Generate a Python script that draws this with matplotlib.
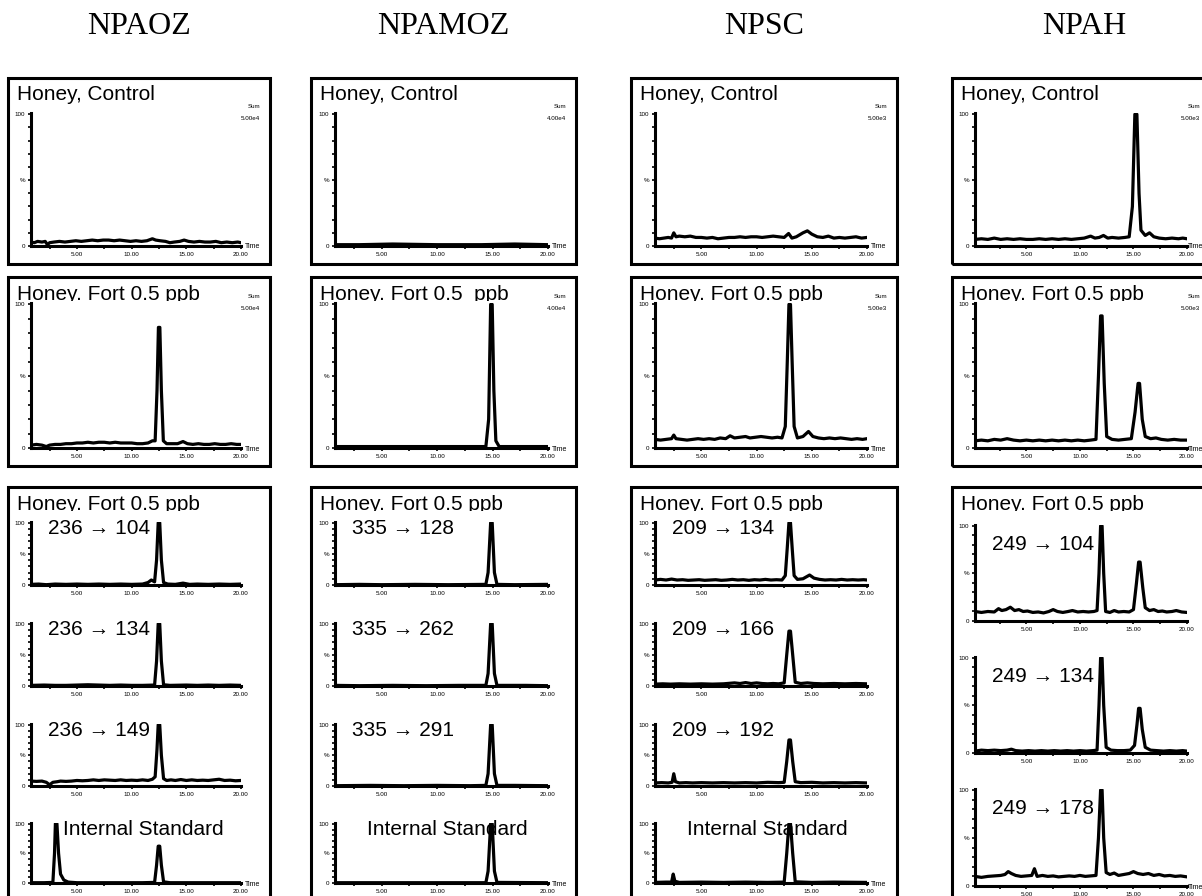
import numpy as np
import matplotlib
matplotlib.use('Agg')
import matplotlib.pyplot as plt
from matplotlib.patches import Rectangle
from matplotlib.transforms import Bbox, TransformedBbox

plt.rcParams['font.family'] = ['Liberation Sans', 'DejaVu Sans']

W, H = 1202, 896

# column headers and per-column scale text
compounds = ['NPAOZ', 'NPAMOZ', 'NPSC', 'NPAH']
sums = ['5.00e4', '4.00e4', '5.00e3', '5.00e3']
row_titles = [['Honey, Control', 'Honey. Fort 0.5 ppb', 'Honey. Fort 0.5 ppb'],
              ['Honey, Control', 'Honey. Fort 0.5  ppb', 'Honey. Fort 0.5 ppb'],
              ['Honey, Control', 'Honey. Fort 0.5 ppb', 'Honey. Fort 0.5 ppb'],
              ['Honey, Control', 'Honey. Fort 0.5 ppb', 'Honey. Fort 0.5 ppb']]
transitions = [['236 \u2192 104', '236 \u2192 134', '236 \u2192 149', 'Internal Standard'],
               ['335 \u2192 128', '335 \u2192 262', '335 \u2192 291', 'Internal Standard'],
               ['209 \u2192 134', '209 \u2192 166', '209 \u2192 192', 'Internal Standard'],
               ['249 \u2192 104', '249 \u2192 134', '249 \u2192 178']]

# chromatograms, (time min, relative %)
npaoz_ctrl = [(0.8,3),(1.1,2.5),(1.4,3.5),(1.8,3),(2.1,3.5),(2.3,1),(2.5,2.5),(2.9,3),(3.4,3.5),(3.9,3),(4.4,3.5),
              (4.9,4),(5.4,3.5),(5.9,4),(6.4,4.5),(6.9,4),(7.4,4.5),(7.9,4.5),(8.4,4),(8.9,4.5),(9.4,4),(9.9,3.5),
              (10.4,4),(10.9,3.5),(11.4,4),(11.9,5.5),(12.2,4.5),(12.6,4),(13.1,3.5),(13.5,2.5),(13.9,3),(14.4,3.5),
              (14.8,4.5),(15.2,3.5),(15.7,3),(16.2,3.5),(16.7,3),(17.2,3),(17.7,3.5),(18.2,2.5),(18.7,3),(19.2,2.5),
              (19.7,3),(20.0,2.5)]
npaoz_fort = [(0.8,2),(1.3,2.5),(1.8,2),(2.2,1),(2.5,2),(3,2.5),(3.5,2.5),(4,3),(4.5,3),(5,3.5),(5.5,3.5),(6,4),
              (6.5,3.5),(7,4),(7.5,4),(8,3.5),(8.5,4),(9,3.5),(9.5,3.5),(10,3.5),(10.5,3),(11,3),(11.5,3.5),(11.9,5),
              (12.15,5),(12.32,40),(12.45,84),(12.58,84),(12.72,40),(12.9,5),(13.2,3),(13.7,3),(14.2,3),(14.7,4.5),
              (15.1,3),(15.6,2.5),(16.1,3),(16.6,2.5),(17.1,2.5),(17.6,3),(18.1,2.5),(18.6,2.5),(19.1,3),(19.6,2.5),(20,2.5)]
npaoz_104 = [(0.8,1),(1.5,1.5),(2.2,0.5),(3,1.5),(4,1),(5,1.5),(6,1),(7,1.5),(8,1),(9,1.5),(10,1),(11,1.5),(11.5,4),
             (11.8,8),(12.1,5),(12.28,40),(12.43,100),(12.57,100),(12.72,40),(12.92,4),(13.3,1.5),(14,1),(14.7,3),
             (15.3,1),(16,1.5),(17,1),(18,1.5),(19,1),(20,1.5)]
npaoz_134 = [(0.8,1),(2,1.5),(3,1),(4,1),(5,1.5),(6,2),(7,1.5),(8,1),(9,1.5),(10,1),(11,1),(12.1,1.5),(12.28,40),
             (12.43,100),(12.57,100),(12.72,40),(12.92,2),(13.5,1),(15,1.5),(16,1),(17,1.5),(18,1),(19,1.5),(20,1)]
npaoz_149 = [(0.8,8),(1.3,7.5),(1.8,8),(2.2,6),(2.5,2),(2.8,6),(3.2,7),(3.5,8),(4,7.5),(4.5,8),(5,9),(5.5,8.5),(6,9),
             (6.5,10),(7,9),(7.5,10),(8,9.5),(8.5,9),(9,10),(9.5,9),(10,9.5),(10.5,9),(11,10),(11.5,9),(11.9,11),
             (12.15,15),(12.32,60),(12.43,100),(12.57,100),(12.72,50),(12.92,12),(13.2,9),(13.6,10),(14,9),(14.5,10.5),
             (15,9),(15.5,10),(16,9),(16.5,9.5),(17,9),(17.5,10),(18,11),(18.5,9),(19,9.5),(19.5,8.5),(20,9)]
npaoz_is = [(0.8,0.5),(2,0.5),(2.8,1),(2.95,50),(3.03,100),(3.17,100),(3.32,50),(3.5,15),(3.8,5),(4.2,1.5),(5,0.5),
            (7,0.5),(9,0.5),(11,0.5),(12.1,1),(12.28,30),(12.43,62),(12.57,62),(12.72,30),(12.92,2),(13.5,0.5),
            (16,0.5),(20,0.5)]

npamoz_ctrl = [(0.8,1),(3,1),(6,1.5),(10,1),(14,1),(17,1.5),(20,1)]
npamoz_fort = [(0.8,1),(5,1),(10,1),(14.4,1),(14.65,20),(14.83,100),(14.97,100),(15.12,40),(15.3,5),(15.6,1),(20,1)]
npamoz_128 = [(0.8,0.5),(3,1),(5,0.5),(8,1),(11,0.5),(14.4,1),(14.6,20),(14.83,100),(14.97,100),(15.17,20),
              (15.4,1),(17,0.5),(20,1)]
npamoz_262 = [(0.8,1),(3,0.5),(6,1),(9,0.5),(12,1),(14.4,1),(14.6,20),(14.83,100),(14.97,100),(15.17,20),
              (15.4,1),(18,1),(20,0.5)]
npamoz_291 = [(0.8,0.5),(4,1),(7,0.5),(10,1),(13,0.5),(14.4,1),(14.6,20),(14.83,100),(14.97,100),(15.17,20),
              (15.4,1),(17,1),(20,0.5)]
npamoz_is = [(0.8,0.5),(5,0.5),(10,0.5),(14.4,0.5),(14.6,20),(14.83,100),(14.97,100),(15.17,20),(15.4,1),(20,0.5)]

npsc_ctrl = [(0.8,6),(1.2,5.5),(1.6,6),(2.0,6.5),(2.3,6),(2.5,10),(2.7,7),(3,7.5),(3.5,7),(4,7.5),(4.5,6.5),(5,6.5),
             (5.5,6),(6,6.5),(6.5,5.5),(7,6),(7.5,6.5),(8,6.5),(8.5,7),(9,6.5),(9.5,7),(10,7),(10.5,6.5),(11,7),
             (11.5,7.5),(12,7),(12.5,6.5),(12.9,9.5),(13.2,6),(13.6,7),(14.2,10),(14.6,11.5),(15,9),(15.5,7),
             (16,6.5),(16.5,7.5),(17,6),(17.5,6.5),(18,6),(18.5,6.5),(19,7),(19.5,6),(20,6.5)]
npsc_fort = [(0.8,6),(1.3,5.5),(1.8,6),(2.3,6.5),(2.5,9),(2.7,6.5),(3.2,6),(3.7,5.5),(4.2,6),(4.7,6.5),(5.2,6),
             (5.7,6.5),(6.2,6),(6.7,7),(7.2,6.5),(7.6,8.5),(8,7),(8.5,7.5),(9,8),(9.4,7),(9.9,7.5),(10.4,8),
             (10.9,7.5),(11.4,7),(11.9,7.5),(12.3,7),(12.6,15),(12.78,60),(12.93,100),(13.07,100),(13.22,60),
             (13.4,15),(13.7,7),(14.2,8),(14.7,11.5),(15.1,8),(15.6,7),(16.1,6.5),(16.6,7),(17.1,6.5),(17.6,7),
             (18.1,6.5),(18.6,6),(19.1,6.5),(19.6,6),(20,6.5)]
npsc_134 = [(0.8,8),(1.3,9),(1.8,8),(2.3,9.5),(2.8,8),(3.3,8.5),(3.8,7.5),(4.3,8),(4.8,8.5),(5.3,7.5),(5.8,8),
            (6.3,8.5),(6.8,7.5),(7.3,8),(7.8,9),(8.3,8),(8.8,8.5),(9.3,7.5),(9.8,8.5),(10.3,8),(10.8,9),(11.3,8),
            (11.8,8.5),(12.3,8),(12.6,15),(12.78,60),(12.93,100),(13.07,100),(13.22,60),(13.4,15),(13.7,9),(14.2,10),
            (14.8,16),(15.2,11),(15.7,9),(16.2,8),(16.7,8.5),(17.2,8),(17.7,9),(18.2,8),(18.7,8.5),(19.2,8),(19.7,8.5),(20,8)]
npsc_166 = [(0.8,3),(1.5,3.5),(2.2,3),(3,3.5),(4,3),(5,3.5),(6,3),(7,3.5),(8,5),(8.5,4),(9,5.5),(9.5,4),(10,5),
            (10.5,4),(11,3.5),(11.5,4),(12,3.5),(12.5,5),(12.73,50),(12.93,88),(13.07,88),(13.27,50),(13.5,6),
            (14,4),(14.6,5),(15.2,4),(16,3.5),(17,4),(18,3.5),(19,4),(20,3.5)]
npsc_192 = [(0.8,5),(1.4,5.5),(2.0,5),(2.35,6),(2.5,20),(2.65,7),(3,5),(3.6,5.5),(4.2,5),(5,5.5),(6,5),(7,5.5),
            (8,5),(9,5.5),(10,5),(11,6),(12,5.5),(12.5,6),(12.73,40),(12.93,75),(13.07,75),(13.27,40),(13.5,7),
            (14,5.5),(15,6),(16,5),(17,5.5),(18,5),(19,5.5),(20,5)]
npsc_is = [(0.8,1),(1.8,1.5),(2.3,1.5),(2.45,15),(2.6,3),(3,1),(5,1.5),(7,1),(9,1.5),(11,1),(12.5,1.5),(12.73,50),
           (12.93,100),(13.07,100),(13.27,50),(13.5,2),(15,1),(17,1.5),(20,1)]

npah_ctrl = [(0.2,5),(0.8,5.5),(1.4,5),(2,6),(2.6,5),(3.2,5.5),(3.8,5),(4.4,5.5),(5,5),(5.6,5),(6.2,5.5),(6.8,5),
             (7.4,5.5),(8,5),(8.6,5.5),(9.2,5),(9.8,5.5),(10.4,6),(11,7.5),(11.4,6),(11.8,6.5),(12.2,8),(12.6,6),
             (13,6.5),(13.6,6),(14.2,6.5),(14.6,7),(14.9,30),(15.13,100),(15.32,100),(15.52,40),(15.7,12),(16.1,8),
             (16.5,10),(16.9,7),(17.4,6),(18,5.5),(18.6,6),(19.2,5.5),(19.6,6),(20,5.5)]
npah_fort = [(0.2,5),(0.8,5.5),(1.4,5),(2,6),(2.6,5.5),(3.2,6.5),(3.8,5.5),(4.4,5),(5,5.5),(5.6,5),(6.2,5.5),
             (6.8,5),(7.4,5.5),(8,5),(8.6,5.5),(9.2,5),(9.8,5.5),(10.4,5),(11,5.5),(11.5,6),(11.73,50),(11.93,92),
             (12.07,92),(12.27,45),(12.5,8),(13,6),(13.6,5.5),(14.2,6),(14.8,6.5),(15.15,25),(15.43,45),(15.57,45),
             (15.82,20),(16.1,8),(16.6,6.5),(17.1,7),(17.6,6),(18.2,5.5),(18.8,6),(19.4,5.5),(20,5.5)]
npah_104 = [(0.2,10),(0.8,9),(1.4,10),(2.0,9.5),(2.4,13),(2.7,11),(3.1,12),(3.5,14.5),(3.9,11),(4.3,12),(4.7,10),
            (5.1,10.5),(5.6,9),(6.1,9.5),(6.6,8.5),(7.1,10),(7.5,12),(7.9,10),(8.4,9),(8.9,10),(9.3,11),(9.8,9.5),
            (10.3,10),(10.8,9.5),(11.3,10),(11.6,11),(11.78,50),(11.93,100),(12.07,100),(12.22,50),(12.4,10),
            (12.8,9),(13.2,11),(13.6,9.5),(14.1,10),(14.6,9.5),(15.0,12),(15.28,40),(15.48,62),(15.62,62),(15.87,35),
            (16.1,14),(16.5,11),(16.9,12),(17.3,10),(17.7,10.5),(18.1,9.5),(18.6,10),(19.0,11),(19.5,9.5),(20,9)]
npah_134 = [(0.2,2),(0.8,3),(1.4,2.5),(2,3),(2.6,2.5),(3.2,3),(3.6,4),(4,2.5),(4.6,2),(5.2,2.5),(5.8,2),(6.4,2.5),
            (7,2),(7.6,2.5),(8.2,2),(8.8,2.5),(9.4,2),(10,2.5),(10.6,2),(11.2,2.5),(11.6,3),(11.78,50),(11.93,100),
            (12.07,100),(12.22,50),(12.45,6),(12.9,3),(13.5,2.5),(14.1,2.5),(14.7,3),(15.1,8),(15.33,30),(15.48,47),
            (15.62,47),(15.82,25),(16.1,6),(16.6,3),(17.2,2.5),(17.8,2),(18.4,2.5),(19,2),(19.6,2.5),(20,2)]
npah_178 = [(0.2,10),(0.8,9),(1.4,10),(2.0,10.5),(2.6,11),(3.0,12),(3.3,15),(3.6,13),(4.0,11),(4.5,10),(5.0,10.5),
            (5.5,11),(5.75,18),(6.0,10),(6.5,11),(7.0,10),(7.5,10.5),(8.0,9.5),(8.5,10),(9.0,10.5),(9.5,10),
            (10.0,11),(10.5,10),(11.0,10.5),(11.5,11),(11.73,50),(11.93,100),(12.07,100),(12.22,50),(12.45,14),
            (12.8,12),(13.2,13.5),(13.6,11),(14.1,12),(14.6,13),(15.0,15),(15.4,13),(15.9,12),(16.4,13),(16.9,11),
            (17.4,12),(17.9,10.5),(18.4,11),(18.9,10),(19.4,10.5),(20,9.5)]

# page layout in pixels
col_box = [(8, 270), (311, 576), (631, 897), (952, 1216)]
col_axes = [(31, 241), (335, 548), (655, 867), (975, 1187)]
col_xmin = [0.8, 0.8, 0.8, 0.2]
row_box = [(78, 264), (277, 466), (487, 910)]
row_axes = [(113, 246), (303, 448)]
sub_rows = [(522, 585), (623, 686), (724, 786), (823, 883)]
sub_rows_npah = [(525, 621), (657, 753), (789, 886)]

top_traces = [[npaoz_ctrl, npaoz_fort], [npamoz_ctrl, npamoz_fort],
              [npsc_ctrl, npsc_fort], [npah_ctrl, npah_fort]]
ms_traces = [[npaoz_104, npaoz_134, npaoz_149, npaoz_is],
             [npamoz_128, npamoz_262, npamoz_291, npamoz_is],
             [npsc_134, npsc_166, npsc_192, npsc_is],
             [npah_104, npah_134, npah_178]]

fig = plt.figure(figsize=(W / 100, H / 100), dpi=100)


def fx(px):
    return px / W


def fy(py):
    return 1 - py / H


def panel(xl, xr, yt, yb, pts, xmin, time_lbl=False):
    ax = fig.add_axes([fx(xl), fy(yb), fx(xr - xl), (yb - yt) / H])
    t, v = zip(*pts)
    ax.plot(t, v, color='black', lw=2.3)
    ax.set_xlim(xmin, 20)
    ax.set_ylim(0, 101)
    ax.patch.set_visible(False)
    ax.spines[['top', 'right']].set_visible(False)
    ax.spines[['left', 'bottom']].set_linewidth(2.2)
    ax.set_xticks([5, 10, 15, 20], labels=['5.00', '10.00', '15.00', '20.00'])
    ax.set_xticks([2.5, 7.5, 12.5, 17.5], minor=True)
    ax.set_yticks([0, 50, 100], labels=['0', '%', '100'])
    ax.set_yticks([10, 20, 30, 40, 60, 70, 80, 90], minor=True)
    ax.tick_params(which='both', labelsize=4.5, length=2.5, width=1.2, pad=1.5)
    if time_lbl:
        # keep the label inside the page for the last column
        fig.text(fx(min(xr + 4, 1188)), fy(yb + 1), 'Time', fontsize=5, va='center', ha='left')
    return ax


def boxed_title(x, y_base, s, clip):
    txt = fig.text(fx(x), fy(y_base), s, fontsize=15, va='baseline', ha='left')
    if clip:
        bb = Bbox.from_extents(0, fy(y_base + 1), 1, 1)
        txt.set_clip_box(TransformedBbox(bb, fig.transFigure))
        txt.set_clip_on(True)


for c in range(4):
    bl, br = col_box[c]
    al, ar = col_axes[c]
    fig.text(fx((bl + br) / 2), fy(27), compounds[c], fontsize=23,
             family='Liberation Serif', ha='center', va='center')
    for r in range(3):
        bt, bb_ = row_box[r]
        fig.add_artist(Rectangle((fx(bl), fy(bb_)), fx(br - bl), (bb_ - bt) / H,
                                 transform=fig.transFigure, fill=False, lw=2.2,
                                 edgecolor='black', clip_on=False))
        boxed_title(bl + 9, bt + 22 if r == 0 else bt + 23, row_titles[c][r], r > 0)

    # full scan-sum traces
    for r in range(2):
        yt, yb = row_axes[r]
        panel(al, ar, yt, yb, top_traces[c][r], col_xmin[c], time_lbl=True)
        sx = min(br - 10, 1200)
        fig.text(fx(sx), fy(yt - 6), 'Sum', fontsize=4.5, ha='right', va='center')
        fig.text(fx(sx), fy(yt + 5), sums[c], fontsize=4.5, ha='right', va='center')

    # individual transitions
    subs = sub_rows if c < 3 else sub_rows_npah
    n = len(ms_traces[c])
    for i in range(n):
        yt, yb = subs[i]
        panel(al, ar, yt, yb, ms_traces[c][i], col_xmin[c], time_lbl=(i == n - 1))
        lbl = transitions[c][i]
        if lbl.startswith('Internal'):
            fig.text(fx(al + 32), fy(yt + 12), lbl, fontsize=15, va='baseline')
        elif c == 3:
            fig.text(fx(al + 17), fy(yt + 25), lbl, fontsize=15, va='baseline')
        else:
            fig.text(fx(al + 17), fy(yt + 12), lbl, fontsize=15, va='baseline')

plt.savefig('out.png', dpi=100)
